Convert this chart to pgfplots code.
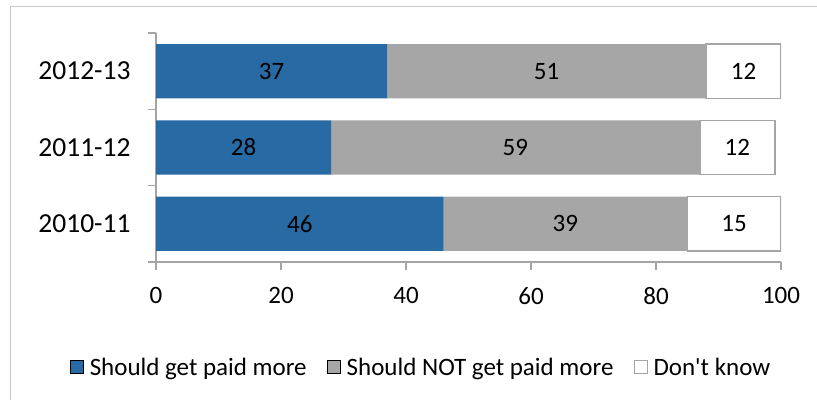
\documentclass[border=0pt]{standalone}
\usepackage{fontspec}
\setmainfont{Carlito}
\usepackage{pgfplots}
\pgfplotsset{compat=1.18}
\definecolor{cblue}{RGB}{40,106,164}
\definecolor{cgray}{RGB}{166,166,166}
\definecolor{cframe}{RGB}{200,200,200}
\definecolor{caxis}{RGB}{165,165,165}
\newcommand\cf{\fontsize{25bp}{29bp}\selectfont}
\newcommand\cfy{\fontsize{27.5bp}{31bp}\selectfont}
\pgfplotstableread{
y a b c
0 46 39 15
1 28 59 12
2 37 51 12
}\bars
\pgfplotstableread{
x y lab
23   0 46
65.5 0 39
92.5 0 15
14   1 28
57.5 1 59
93   1 12
18.5 2 37
62.5 2 51
94   2 12
}\labels
\begin{document}
\begin{tikzpicture}
\useasboundingbox (0bp,0bp) rectangle (817bp,400bp);
\draw[cframe, line width=1bp] (10.5bp,0bp) -- (10.5bp,393.5bp) -- (817bp,393.5bp);
\pgfplotsset{myaxis/.style={scale only axis, width=625bp, height=229bp, at={(156bp,138bp)}, anchor=south west, xmin=0, xmax=100, ymin=-0.5, ymax=2.5}}
\begin{axis}[myaxis,
  xbar stacked, bar width=0.71,
  axis x line*=bottom, axis y line*=left,
  axis line style={-, caxis, line width=1.5bp},
  xtick={0,20,...,100},
  ytick={0,1,2}, yticklabels={2010-11,2011-12,2012-13},
  minor ytick={-0.5,0.5,1.5,2.5},
  major y tick style={draw=none},
  tick align=outside,
  major tick length=8bp, minor tick length=8bp,
  tick style={caxis, line width=1.5bp},
  minor tick style={caxis, line width=1.5bp},
  /pgf/number format/assume math mode=true,
  xticklabel style={font=\cf, yshift=-14bp},
  yticklabel style={font=\cfy, xshift=-14bp},
  legend style={at={(0.424,-0.459)}, anchor=center, legend columns=-1, draw=none, fill=none, font=\cf,
    /tikz/every odd column/.append style={column sep=4bp},
    /tikz/every even column/.append style={column sep=18bp}},
  legend image code/.code={\draw[#1, line width=1bp] (0bp,-6.5bp) rectangle (13bp,6.5bp);},
]
\addplot[fill=cblue, draw=none] table[x=a, y=y] {\bars};
\addplot[fill=cgray, draw=none] table[x=b, y=y] {\bars};
\addplot[fill=white, draw=caxis, line width=1.5bp] table[x=c, y=y] {\bars};
\legend{Should get paid more, Should NOT get paid more, Don\textquotesingle t know}
\end{axis}
\begin{axis}[myaxis, hide axis]
\addplot[draw=none, mark=none, nodes near coords, point meta=explicit symbolic,
  nodes near coords align=center, every node near coord/.append style={font=\cf, text=black}]
  table[x=x, y=y, meta=lab] {\labels};
\end{axis}
\end{tikzpicture}
\end{document}
